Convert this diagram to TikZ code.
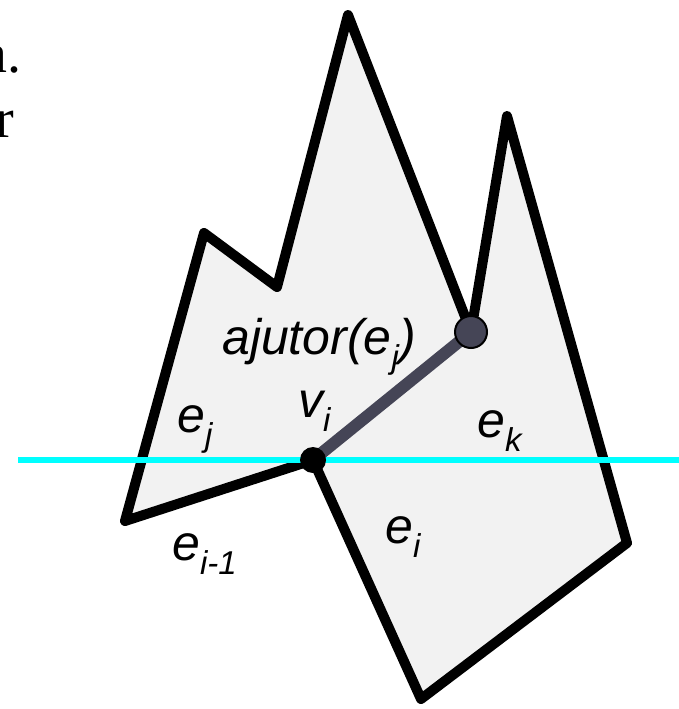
\documentclass[tikz,border=0pt]{standalone}
\usepackage{fontspec}
\setmainfont{Liberation Sans}
\newfontfamily\slidefont{Liberation Serif}
\usetikzlibrary{positioning, backgrounds}

\definecolor{polyfill}{RGB}{242,242,242}
\definecolor{hdark}{RGB}{69,69,86}
\definecolor{sweepcyan}{RGB}{0,255,255}
\newcommand{\lowidx}[1]{\raisebox{-0.28em}{\fontsize{33}{40}\selectfont #1}}

\begin{document}
\begin{tikzpicture}[x=1pt, y=-1pt,
    poly/.style={draw=black, line width=10pt, line join=round, fill=polyfill},
    sweep/.style={draw=sweepcyan, line width=6pt},
    lbl/.style={inner sep=0pt, anchor=base west, font=\fontsize{50}{60}\selectfont\itshape},
    dot/.style={circle, fill=black, inner sep=0pt, minimum size=26pt},
    helper/.style={circle, draw=black, line width=2pt, fill=hdark, inner sep=0pt, minimum size=32pt}
]
    \useasboundingbox (0,0) rectangle (679,709);

    % Polygon corners
    \coordinate (p1) at (125,521);
    \coordinate (p2) at (204,233);
    \coordinate (p3) at (277,287);
    \coordinate (p4) at (348,15);
    \coordinate (p6) at (507,116);
    \coordinate (p7) at (627,543);
    \coordinate (p8) at (421,699);

    % Vertex v_i and its helper
    \node[dot] (vi) at (313,460) {};
    \node[helper] (help) at (471,332) {};

    % Sweep line ends
    \coordinate (sl) at (18,460);
    \coordinate (sr) at (679,460);

    \begin{pgfonlayer}{background}
        \draw[poly] (p1) -- (p2) -- (p3) -- (p4) -- (help.center) -- (p6) -- (p7) -- (p8) -- (vi.center) -- cycle;
        \draw[sweep] (sl) -- (sr);
        \draw[hdark, line width=12pt] (vi.center) -- (help.center);
    \end{pgfonlayer}

    % Labels
    \node[lbl] (lhelp) at (222,354) {ajutor(e\lowidx{j})};
    \node[lbl] (lvi) at (298,417) {v\lowidx{i}};
    \node[lbl] (lej) at (177,432) {e\lowidx{j}};
    \node[lbl] (lek) at (477,437) {e\lowidx{k}};
    \node[lbl] (lei) at (385,543) {e\lowidx{i}};
    \node[lbl] (leim) at (172,560) {e\lowidx{i-1}};

    % Cut-off slide text
    \node[inner sep=0pt, anchor=base east, font=\slidefont\fontsize{56}{66}\selectfont] (ta) at (22,73) {a.};
    \node[inner sep=0pt, anchor=base east, font=\slidefont\fontsize{56}{66}\selectfont] (tr) at (14,137) {r};
\end{tikzpicture}
\end{document}
